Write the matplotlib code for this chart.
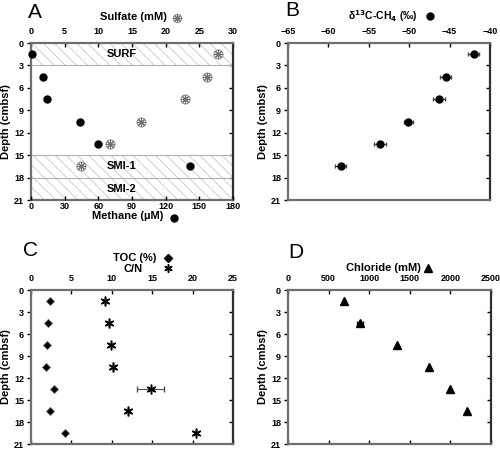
import matplotlib.pyplot as plt
import numpy as np

plt.rcParams["font.family"] = ["Liberation Sans", "DejaVu Sans"]
plt.rcParams["font.weight"] = "bold"
plt.rcParams["hatch.linewidth"] = 0.6

depth6 = [1.5, 4.5, 7.5, 10.5, 13.5, 16.5]
depth7 = [1.5, 4.5, 7.5, 10.5, 13.5, 16.5, 19.5]

methane = [0.9, 10.4, 14.6, 43.5, 60, 142]
sulfate = [27.7, 26.2, 22.8, 16.4, 11.8, 7.4]

d13c = [-42.0, -45.5, -46.3, -50.1, -53.6, -58.5]
d13c_err = [0.7, 0.7, 0.7, 0.6, 0.7, 0.7]

toc = [2.3, 2.05, 1.98, 1.9, 2.86, 2.3, 4.15]
cn = [9.2, 9.6, 9.9, 10.2, 14.8, 12.0, 20.4]
cn_err = [0, 0, 0, 0, 1.65, 0, 0]

chloride = [692, 885, 1339, 1734, 1989, 2199]
chloride_err = [0, 40, 0, 0, 0, 0]

zones = [(0, 3, "SURF"), (15, 18, "SMI-1"), (18, 21, "SMI-2")]

spine_col = "#6e6e6e"
tick_fs = 6.5


def style(ax, xlim, xticks):
    ax.set_ylim(21, 0)
    ax.set_yticks(np.arange(0, 22, 3))
    ax.set_xlim(*xlim)
    ax.set_xticks(xticks)
    ax.xaxis.tick_top()
    ax.tick_params(axis="x", direction="in", length=3, width=1, colors="black",
                   labelsize=tick_fs, pad=5, top=True, bottom=False,
                   labeltop=True, labelbottom=False)
    ax.tick_params(axis="y", direction="out", length=3, width=1,
                   labelsize=tick_fs, pad=2)
    for s in ax.spines.values():
        s.set_linewidth(1.6)
        s.set_color(spine_col)
    ax.spines["right"].set_color("#303030")
    sec = ax.secondary_yaxis("right")
    sec.set_yticks(np.arange(3, 21, 3))
    sec.tick_params(direction="in", length=3, width=1, labelright=False)
    sec.spines["right"].set_visible(False)
    ax.set_ylabel("Depth (cmbsf)", fontsize=8, fontweight="bold", labelpad=2)


fig = plt.figure(figsize=(5.0, 4.49), dpi=100)
W, H = 500, 449


def add_ax(x0, y0, x1, y1):
    return fig.add_axes([x0 / W, 1 - y1 / H, (x1 - x0) / W, (y1 - y0) / H])


# Panel A
axA = add_ax(31, 43, 233, 200)
axM = axA.twiny()
style(axA, (0, 30), np.arange(0, 31, 5))
for top, bot, name in zones:
    axA.axhspan(top, bot, facecolor="none", edgecolor="#c8c8c8", hatch="\\\\\\", lw=0)
    axA.text(13.5, (top + bot) / 2, name, ha="center", va="center",
             fontsize=8, fontweight="bold")
for yv in [3, 15, 18]:
    axA.axhline(yv, color="#b0b0b0", lw=0.8)
axA.plot(sulfate, depth6, ls="none", marker="o", ms=6.5, mfc="white",
         mec="#909090", mew=0.8, clip_on=False, zorder=4)
axA.plot(sulfate, depth6, ls="none", marker=(8, 2, 0), ms=6, mec="#707070",
         mew=0.8, clip_on=False, zorder=5)

axM.set_xlim(0, 180)
axM.set_xticks(np.arange(0, 181, 30))
axM.xaxis.tick_bottom()
axM.tick_params(axis="x", direction="in", length=3, width=1,
                labelsize=tick_fs, pad=1.5, top=False, bottom=True,
                labeltop=False, labelbottom=True)
for s in axM.spines.values():
    s.set_visible(False)
axM.plot(methane, depth6, ls="none", marker="o", ms=5, color="black",
         zorder=6, clip_on=False)
axM.set_ylim(21, 0)

fig.text(133 / W, 1 - 17 / H, "Sulfate (mM)", ha="center", va="center",
         fontsize=8, fontweight="bold")
fig.text(128 / W, 1 - 216 / H, "Methane (\u00b5M)", ha="center", va="center",
         fontsize=8, fontweight="bold")
fig.lines.append(plt.Line2D([177 / W], [1 - 18 / H], marker="o", ms=6, mfc="white",
                            mec="#909090", mew=0.8, transform=fig.transFigure))
fig.lines.append(plt.Line2D([177 / W], [1 - 18 / H], marker=(8, 2, 0), ms=5.5,
                            mec="#707070", mew=0.8, transform=fig.transFigure))
fig.lines.append(plt.Line2D([174 / W], [1 - 218 / H], marker="o", ms=5,
                            color="black", transform=fig.transFigure))

# Panel B
axB = add_ax(288, 43, 490, 200)
style(axB, (-65, -40), np.arange(-65, -39, 5))
axB.errorbar(d13c, depth6, xerr=d13c_err, fmt="o", ms=5, color="black",
             ecolor="#404040", elinewidth=0.8, capsize=1.5, clip_on=False)
fig.text(383 / W, 1 - 16 / H, "\u03b4$^{13}$C-CH$_4$ (\u2030)", ha="center",
         va="center", fontsize=7.5, fontweight="bold")
fig.lines.append(plt.Line2D([430 / W], [1 - 16 / H], marker="o", ms=5,
                            color="black", transform=fig.transFigure))

# Panel C
axC = add_ax(31, 290, 233, 444)
style(axC, (0, 25), np.arange(0, 26, 5))
axC.tick_params(axis="x", bottom=True)
axC.plot(toc, depth7, ls="none", marker="D", ms=4.5, color="black",
         mec="#606060", mew=0.6)
axC.errorbar(cn, depth7, xerr=cn_err, fmt="none", ecolor="#505050",
             elinewidth=0.8, capsize=2)
axC.plot(cn, depth7, ls="none", marker=(6, 2, 0), ms=7, mec="black", mew=1.1)
fig.text(135 / W, 1 - 258 / H, "TOC (%)", ha="center", va="center",
         fontsize=8, fontweight="bold")
fig.text(133 / W, 1 - 269 / H, "C/N", ha="center", va="center",
         fontsize=8, fontweight="bold")
fig.lines.append(plt.Line2D([168 / W], [1 - 258 / H], marker="D", ms=4.5,
                            color="black", transform=fig.transFigure))
fig.lines.append(plt.Line2D([168 / W], [1 - 268 / H], marker=(6, 2, 0), ms=6,
                            mec="black", mew=1.1, transform=fig.transFigure))

# Panel D
axD = add_ax(288, 290, 491, 444)
style(axD, (0, 2500), np.arange(0, 2501, 500))
axD.tick_params(axis="x", bottom=True)
axD.errorbar(chloride, depth6, xerr=chloride_err, fmt="^", ms=5.5,
             color="black", ecolor="black", elinewidth=0.8, capsize=1.5)
fig.text(383 / W, 1 - 268 / H, "Chloride (mM)", ha="center", va="center",
         fontsize=8, fontweight="bold")
fig.lines.append(plt.Line2D([428 / W], [1 - 268 / H], marker="^", ms=5.5,
                            color="black", transform=fig.transFigure))

# panel letters
for x, y, lab in [(28, 13, "A"), (285, 11, "B"), (23, 250, "C"), (288, 253, "D")]:
    fig.text(x / W, 1 - y / H, lab, ha="left", va="center", fontsize=15,
             fontweight="normal")

fig.savefig("out.png", dpi=100)
